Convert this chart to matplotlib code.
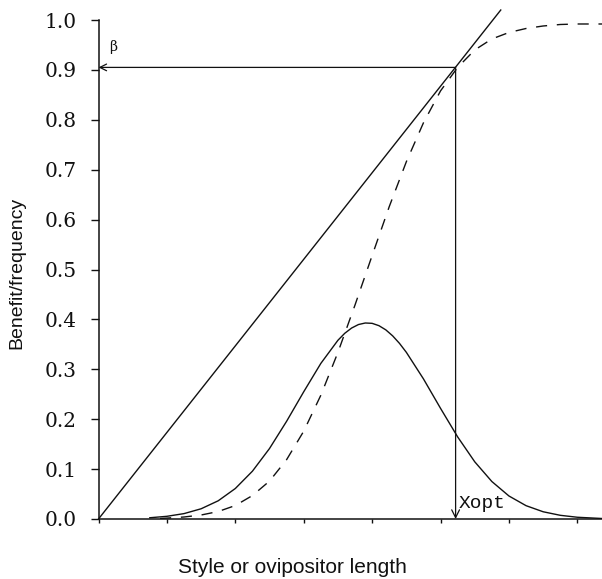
import matplotlib.pyplot as plt

# benefit line through the origin (tangent to the cumulative curve at Xopt)
line_x = [0.0, 5.88]
line_y = [0.0, 1.02]

# frequency distribution of the length (bell curve)
pdf_x = [0.75, 1.0, 1.25, 1.5, 1.75, 2.0, 2.25, 2.5, 2.75, 3.0, 3.25, 3.5, 3.6, 3.7,
         3.8, 3.9, 4.0, 4.1, 4.2, 4.3, 4.4, 4.5, 4.75, 5.0, 5.25, 5.5, 5.75, 6.0,
         6.25, 6.5, 6.75, 7.0, 7.36]
pdf_y = [0.0025, 0.0054, 0.0108, 0.0205, 0.0365, 0.0611, 0.0958, 0.1413, 0.1959,
         0.2550, 0.3118, 0.3582, 0.3722, 0.3827, 0.3897, 0.3928, 0.3921, 0.3874,
         0.3790, 0.3670, 0.3519, 0.3340, 0.2808, 0.2217, 0.1645, 0.1146, 0.0751,
         0.0461, 0.0267, 0.0145, 0.0074, 0.0035, 0.001]

# cumulative curve (dashed)
cdf_x = [0.9, 1.25, 1.5, 1.75, 2.0, 2.25, 2.5, 2.75, 3.0, 3.25, 3.5, 3.75, 4.0,
         4.25, 4.5, 4.75, 5.0, 5.25, 5.5, 5.75, 6.0, 6.25, 6.5, 6.75, 7.0, 7.36]
cdf_y = [0.001, 0.004, 0.008, 0.015, 0.027, 0.047, 0.076, 0.119, 0.176, 0.248,
         0.334, 0.429, 0.528, 0.626, 0.716, 0.794, 0.858, 0.905, 0.940, 0.962,
         0.975, 0.983, 0.988, 0.991, 0.992, 0.992]

x_opt = 5.22
beta = 0.905

x_ticks = [0, 1, 2, 3, 4, 5, 6, 7]
y_ticks = [0.0, 0.1, 0.2, 0.3, 0.4, 0.5, 0.6, 0.7, 0.8, 0.9, 1.0]

W, H = 602, 579
fig = plt.figure(figsize=(W / 100, H / 100), dpi=100)
ax = fig.add_axes([98.5 / W, 60 / H, 503.5 / W, 499 / H])

ink = '#111111'
ax.plot(line_x, line_y, color=ink, lw=1.0, clip_on=False)
ax.plot(pdf_x, pdf_y, color=ink, lw=1.0)
ax.plot(cdf_x, cdf_y, color=ink, lw=1.0, linestyle=(0, (8, 7)))

# arrows from the intersection point to the axes
ax.annotate('', xy=(x_opt, 0.0), xytext=(x_opt, beta),
            arrowprops=dict(arrowstyle='->', color=ink, lw=0.9,
                            shrinkA=0, shrinkB=0, mutation_scale=14))
ax.annotate('', xy=(0.0, beta), xytext=(x_opt, beta),
            arrowprops=dict(arrowstyle='->', color=ink, lw=0.9,
                            shrinkA=0, shrinkB=0, mutation_scale=12))

ax.text(0.15, 0.945, 'β', fontsize=10, family='DejaVu Serif', color=ink,
        ha='left', va='center')
ax.text(x_opt + 0.04, 0.032, 'Xopt', fontsize=14, family='Liberation Mono',
        color=ink, ha='left', va='center')

ax.set_xlim(0, 7.36)
ax.set_ylim(0, 1.0)
ax.set_xticks(x_ticks)
ax.set_xticklabels([])
ax.set_yticks(y_ticks)
ax.set_yticklabels([f'{v:.1f}' for v in y_ticks], family='DejaVu Serif',
                   fontsize=14.5, color=ink)
ax.tick_params(axis='y', direction='out', length=6, width=1.0, pad=10, colors=ink)
ax.tick_params(axis='x', direction='out', length=3, width=1.0, colors=ink)

for side in ['top', 'right']:
    ax.spines[side].set_visible(False)
for side in ['left', 'bottom']:
    ax.spines[side].set_linewidth(1.1)
    ax.spines[side].set_color(ink)

fig.text(292 / W, 1 - 573 / H, 'Style or ovipositor length', family='Liberation Sans',
         fontsize=15, color=ink, ha='center', va='baseline')
fig.text(17 / W, 1 - 273 / H, 'Benefit/frequency', family='Liberation Sans',
         fontsize=14, color=ink, ha='center', va='center', rotation=90)

fig.savefig('out.png', dpi=100)
